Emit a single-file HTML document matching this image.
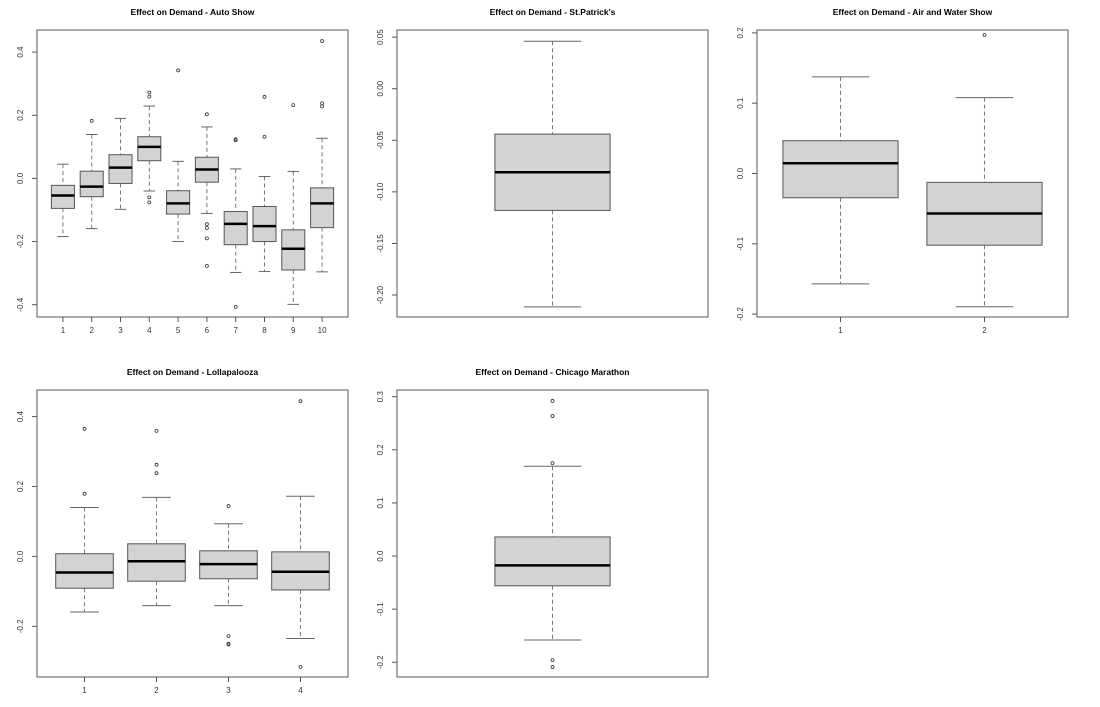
<!DOCTYPE html>
<html><head><meta charset="utf-8"><style>
html,body{margin:0;padding:0;background:#fff;}
svg{display:block;font-family:"Liberation Sans",Arial,sans-serif;}
</style></head><body>
<svg id="chart" width="1100" height="707" viewBox="0 0 1100 707"></svg>
<script>
// ---- data: Auto Show (10 groups) ----
const autoCats = ["1","2","3","4","5","6","7","8","9","10"];
const autoLow = [-0.184,-0.159,-0.098,-0.040,-0.200,-0.111,-0.298,-0.295,-0.399,-0.296];
const autoQ1  = [-0.095,-0.058,-0.016,0.056,-0.113,-0.012,-0.210,-0.200,-0.290,-0.156];
const autoMed = [-0.054,-0.026,0.034,0.100,-0.079,0.028,-0.144,-0.151,-0.223,-0.079];
const autoQ3  = [-0.022,0.023,0.075,0.132,-0.039,0.067,-0.105,-0.089,-0.163,-0.030];
const autoHigh= [0.045,0.139,0.190,0.229,0.054,0.163,0.030,0.006,0.022,0.127];
const autoOut = [[],[0.182],[],[0.272,0.259,-0.060,-0.076],[0.342],[0.203,-0.145,-0.157,-0.190,-0.277],[0.124,0.121,-0.407],[0.258,0.132],[0.232],[0.435,0.238,0.228]];
const autoTicks = [-0.4,-0.2,0.0,0.2,0.4];
const autoTickLabels = ["-0.4","-0.2","0.0","0.2","0.4"];
// ---- St.Patrick's ----
const patLow=[-0.2115], patQ1=[-0.118], patMed=[-0.081], patQ3=[-0.044], patHigh=[0.046], patOut=[[]];
const patTicks=[-0.20,-0.15,-0.10,-0.05,0.00,0.05];
const patTickLabels=["-0.20","-0.15","-0.10","-0.05","0.00","0.05"];
// ---- Air and Water Show ----
const airCats=["1","2"];
const airLow=[-0.157,-0.1895], airQ1=[-0.0345,-0.102], airMed=[0.0146,-0.0569], airQ3=[0.0466,-0.0126], airHigh=[0.1375,0.108];
const airOut=[[],[0.197]];
const airTicks=[-0.2,-0.1,0.0,0.1,0.2];
const airTickLabels=["-0.2","-0.1","0.0","0.1","0.2"];
// ---- Lollapalooza ----
const lolCats=["1","2","3","4"];
const lolLow=[-0.159,-0.141,-0.141,-0.235], lolQ1=[-0.091,-0.071,-0.064,-0.096], lolMed=[-0.046,-0.014,-0.022,-0.044], lolQ3=[0.0076,0.036,0.016,0.013], lolHigh=[0.140,0.169,0.0935,0.172];
const lolOut=[[0.365,0.179],[0.359,0.262,0.238],[0.144,-0.228,-0.250,-0.252],[0.444,-0.316]];
const lolTicks=[-0.2,0.0,0.2,0.4];
const lolTickLabels=["-0.2","0.0","0.2","0.4"];
// ---- Chicago Marathon ----
const chiLow=[-0.158], chiQ1=[-0.056], chiMed=[-0.0176], chiQ3=[0.036], chiHigh=[0.169];
const chiOut=[[0.292,0.2635,0.175,-0.196,-0.209]];
const chiTicks=[-0.2,-0.1,0.0,0.1,0.2,0.3];
const chiTickLabels=["-0.2","-0.1","0.0","0.1","0.2","0.3"];

const NS="http://www.w3.org/2000/svg";
const svg=document.getElementById('chart');
function mk(tag,attrs,parent){const e=document.createElementNS(NS,tag);for(const k in attrs)e.setAttribute(k,attrs[k]);(parent||svg).appendChild(e);return e;}

function panel(o){
  const g=mk('g',{});
  
  
  const L=o.x,R=o.x+311,T=o.y,B=o.y+287;
  const y=v=>B-(v-o.ymin)/(o.ymax-o.ymin)*(B-T);
  const n=o.med.length;
  const unit=(R-L)/(n+0.08*n);
  const xc=i=>L+(R-L)/2+(i-(n-1)/2)*unit;
  const bw=(n===1?0.4:0.8)*unit;
  const t=mk('text',{x:(L+R)/2,y:T-15,'text-anchor':'middle','font-size':'8.5','font-weight':'bold',fill:'#000'},g);
  t.textContent=o.title;
  
  
  for(let i=0;i<n;i++){
    const cx=xc(i);
    const bg=mk('g',{},g);
    
    
    mk('line',{x1:cx,x2:cx,y1:y(o.high[i]),y2:y(o.q3[i]),stroke:'#777','stroke-dasharray':'4,3','stroke-width':1},bg);
    mk('line',{x1:cx,x2:cx,y1:y(o.q1[i]),y2:y(o.low[i]),stroke:'#777','stroke-dasharray':'4,3','stroke-width':1},bg);
    mk('line',{x1:cx-bw/4,x2:cx+bw/4,y1:y(o.high[i]),y2:y(o.high[i]),stroke:'#666','stroke-width':1},bg);
    mk('line',{x1:cx-bw/4,x2:cx+bw/4,y1:y(o.low[i]),y2:y(o.low[i]),stroke:'#666','stroke-width':1},bg);
    mk('rect',{x:cx-bw/2,y:y(o.q3[i]),width:bw,height:y(o.q1[i])-y(o.q3[i]),fill:'#d3d3d3',stroke:'#555','stroke-width':1},bg);
    mk('line',{x1:cx-bw/2,x2:cx+bw/2,y1:y(o.med[i]),y2:y(o.med[i]),stroke:'#000','stroke-width':2.5},bg);
    o.out[i].forEach(v=>{
      const c=mk('circle',{cx:cx,cy:y(v),r:1.5,fill:'none',stroke:'#333','stroke-width':0.8},bg);
      
      
    });
  }
  const fr=mk('rect',{x:L,y:T,width:R-L,height:B-T,fill:'none',stroke:'#555','stroke-width':1},g);
  
  
  const ya=mk('g',{},g);
  
  
  mk('line',{x1:L,x2:L,y1:y(o.ticks[0]),y2:y(o.ticks[o.ticks.length-1]),stroke:'#555'},ya);
  o.ticks.forEach((v,j)=>{
    mk('line',{x1:L-5,x2:L,y1:y(v),y2:y(v),stroke:'#555'},ya);
    const tx=mk('text',{x:0,y:0,transform:`translate(${L-14},${y(v)}) rotate(-90)`,'text-anchor':'middle','font-size':'8',fill:'#333'},ya);
    tx.textContent=o.tickLabels[j];
  });
  if(o.cats){
    const xa=mk('g',{},g);
    
    
    mk('line',{x1:xc(0),x2:xc(n-1),y1:B,y2:B,stroke:'#555'},xa);
    o.cats.forEach((c,i)=>{
      mk('line',{x1:xc(i),x2:xc(i),y1:B,y2:B+5,stroke:'#555'},xa);
      const tx=mk('text',{x:xc(i),y:B+16,'text-anchor':'middle','font-size':'8',fill:'#333'},xa);
      tx.textContent=c;
    });
  }
}

panel({name:'panel-auto-show',title:'Effect on Demand - Auto Show',x:37,y:30,ymin:-0.439,ymax:0.47,
  low:autoLow,q1:autoQ1,med:autoMed,q3:autoQ3,high:autoHigh,out:autoOut,ticks:autoTicks,tickLabels:autoTickLabels,cats:autoCats});
panel({name:'panel-st-patricks',title:"Effect on Demand - St.Patrick's",x:397,y:30,ymin:-0.2213,ymax:0.0569,
  low:patLow,q1:patQ1,med:patMed,q3:patQ3,high:patHigh,out:patOut,ticks:patTicks,tickLabels:patTickLabels});
panel({name:'panel-air-water-show',title:'Effect on Demand - Air and Water Show',x:757,y:30,ymin:-0.2041,ymax:0.2041,
  low:airLow,q1:airQ1,med:airMed,q3:airQ3,high:airHigh,out:airOut,ticks:airTicks,tickLabels:airTickLabels,cats:airCats});
panel({name:'panel-lollapalooza',title:'Effect on Demand - Lollapalooza',x:37,y:390,ymin:-0.345,ymax:0.476,
  low:lolLow,q1:lolQ1,med:lolMed,q3:lolQ3,high:lolHigh,out:lolOut,ticks:lolTicks,tickLabels:lolTickLabels,cats:lolCats});
panel({name:'panel-chicago-marathon',title:'Effect on Demand - Chicago Marathon',x:397,y:390,ymin:-0.2277,ymax:0.3126,
  low:chiLow,q1:chiQ1,med:chiMed,q3:chiQ3,high:chiHigh,out:chiOut,ticks:chiTicks,tickLabels:chiTickLabels});
</script>
</body></html>
